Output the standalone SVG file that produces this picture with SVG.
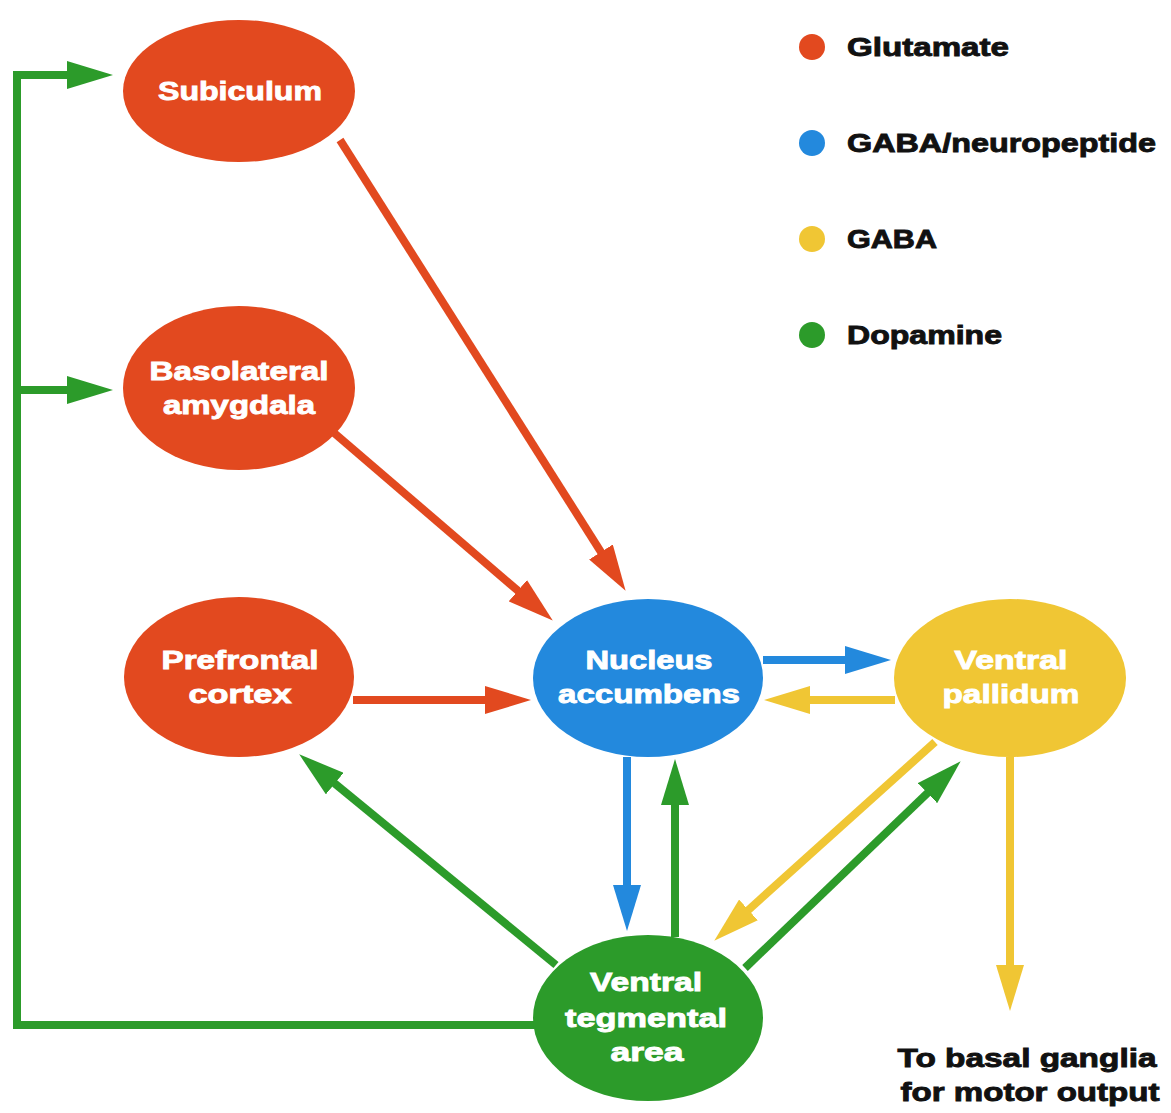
<svg xmlns="http://www.w3.org/2000/svg" width="1171" height="1113" viewBox="0 0 1171 1113">
<style>
.t{font-family:"Liberation Sans",Arial,sans-serif;font-weight:bold;font-size:26px;text-anchor:middle}
.w{fill:#fff;stroke:#fff;stroke-width:0.9}
.k{fill:#111;stroke:#111;stroke-width:0.9}
.lg{font-family:"Liberation Sans",Arial,sans-serif;font-weight:bold;font-size:26px;fill:#111;stroke:#111;stroke-width:0.9}
.c{fill:none;stroke-width:8}
.r{stroke:#E2491F}.b{stroke:#2389DD}.y{stroke:#F0C634}.g{stroke:#2C9B2A}
</style>
<defs>
<marker id="mr" markerUnits="userSpaceOnUse" markerWidth="46" markerHeight="28" refX="1" refY="14" orient="auto"><path d="M0,0 L46,14 L0,28 z" fill="#E2491F"/></marker>
<marker id="mb" markerUnits="userSpaceOnUse" markerWidth="46" markerHeight="28" refX="1" refY="14" orient="auto"><path d="M0,0 L46,14 L0,28 z" fill="#2389DD"/></marker>
<marker id="my" markerUnits="userSpaceOnUse" markerWidth="46" markerHeight="28" refX="1" refY="14" orient="auto"><path d="M0,0 L46,14 L0,28 z" fill="#F0C634"/></marker>
<marker id="mg" markerUnits="userSpaceOnUse" markerWidth="46" markerHeight="28" refX="1" refY="14" orient="auto"><path d="M0,0 L46,14 L0,28 z" fill="#2C9B2A"/></marker>
</defs>
<rect width="1171" height="1113" fill="#fff"/>
<g id="connectors">
<path class="c r" d="M340,140 L601.5,552.8" marker-end="url(#mr)"/>
<path class="c r" d="M333,432 L518.6,591.3" marker-end="url(#mr)"/>
<path class="c r" d="M353,700 L486,700" marker-end="url(#mr)"/>
<path class="c b" d="M763,660 L846,660" marker-end="url(#mb)"/>
<path class="c y" d="M895,700 L809,700" marker-end="url(#my)"/>
<path class="c b" d="M627,757 L627,886" marker-end="url(#mb)"/>
<path class="c g" d="M675,937 L675,804" marker-end="url(#mg)"/>
<path class="c y" d="M935,742 L747.7,910.6" marker-end="url(#my)"/>
<path class="c g" d="M745,968 L928.2,792.4" marker-end="url(#mg)"/>
<path class="c y" d="M1010,757 L1010,966" marker-end="url(#my)"/>
<path class="c g" d="M556,965 L334,782.9" marker-end="url(#mg)"/>
<path class="c g" d="M535,1025 L17,1025 L17,75 L68,75" marker-end="url(#mg)"/>
<path class="c g" d="M17,390 L68,390" marker-end="url(#mg)"/>
</g>
<g id="subiculum"><ellipse cx="239" cy="91" rx="116" ry="71" fill="#E2491F"/><text class="t w" x="240" y="100" textLength="164" lengthAdjust="spacingAndGlyphs">Subiculum</text></g>
<g id="basolateral-amygdala"><ellipse cx="239" cy="388" rx="116" ry="82" fill="#E2491F"/><text class="t w" x="239" y="380" textLength="179" lengthAdjust="spacingAndGlyphs">Basolateral</text><text class="t w" x="239" y="414" textLength="152" lengthAdjust="spacingAndGlyphs">amygdala</text></g>
<g id="prefrontal-cortex"><ellipse cx="239" cy="677" rx="115" ry="80" fill="#E2491F"/><text class="t w" x="240" y="669" textLength="157" lengthAdjust="spacingAndGlyphs">Prefrontal</text><text class="t w" x="240" y="703" textLength="103" lengthAdjust="spacingAndGlyphs">cortex</text></g>
<g id="nucleus-accumbens"><ellipse cx="648" cy="678" rx="115" ry="79" fill="#2389DD"/><text class="t w" x="649" y="669" textLength="127" lengthAdjust="spacingAndGlyphs">Nucleus</text><text class="t w" x="649" y="703" textLength="182" lengthAdjust="spacingAndGlyphs">accumbens</text></g>
<g id="ventral-pallidum"><ellipse cx="1010" cy="678" rx="116" ry="79" fill="#F0C634"/><text class="t w" x="1011" y="669" textLength="113" lengthAdjust="spacingAndGlyphs">Ventral</text><text class="t w" x="1011" y="703" textLength="137" lengthAdjust="spacingAndGlyphs">pallidum</text></g>
<g id="ventral-tegmental-area"><ellipse cx="648" cy="1018" rx="115" ry="83" fill="#2C9B2A"/><text class="t w" x="646" y="991" textLength="112" lengthAdjust="spacingAndGlyphs">Ventral</text><text class="t w" x="646" y="1027" textLength="162" lengthAdjust="spacingAndGlyphs">tegmental</text><text class="t w" x="647" y="1061" textLength="73" lengthAdjust="spacingAndGlyphs">area</text></g>
<g id="motor-output"><text class="t k" x="1027" y="1067" textLength="259" lengthAdjust="spacingAndGlyphs">To basal ganglia</text><text class="t k" x="1030" y="1101" textLength="259" lengthAdjust="spacingAndGlyphs">for motor output</text></g>
<g id="legend">
<circle cx="812" cy="47" r="13" fill="#E2491F"/><text class="lg" x="847" y="56" textLength="162" lengthAdjust="spacingAndGlyphs">Glutamate</text>
<circle cx="812" cy="143" r="13" fill="#2389DD"/><text class="lg" x="847" y="152" textLength="309" lengthAdjust="spacingAndGlyphs">GABA/neuropeptide</text>
<circle cx="812" cy="239" r="13" fill="#F0C634"/><text class="lg" x="847" y="248" textLength="90" lengthAdjust="spacingAndGlyphs">GABA</text>
<circle cx="812" cy="335" r="13" fill="#2C9B2A"/><text class="lg" x="847" y="344" textLength="155" lengthAdjust="spacingAndGlyphs">Dopamine</text>
</g>
</svg>
